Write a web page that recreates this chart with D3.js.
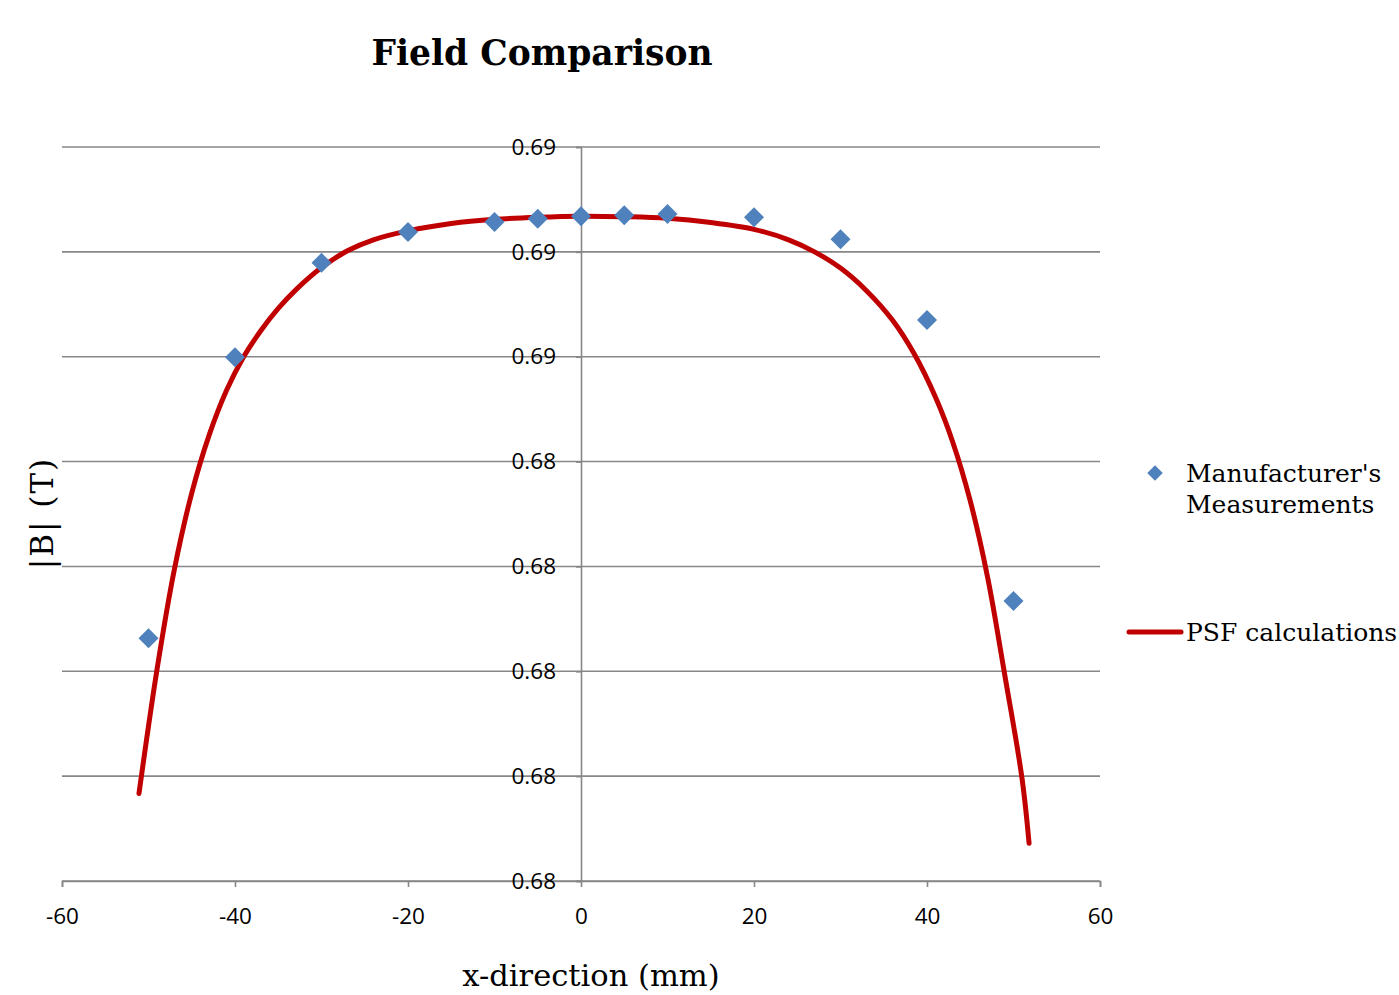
<!DOCTYPE html>
<html>
<head>
<meta charset="utf-8">
<script src="https://cdn.jsdelivr.net/npm/d3@7"></script>
<style>
  body { margin: 0; background: #fff; }
  svg { display: block; }
</style>
</head>
<body>
<svg id="chart" width="1399" height="995"></svg>
<script>
// measured points (Manufacturer's Measurements)
var measX = [-50, -40, -30, -20, -10, -5, 0, 5, 10, 20, 30, 40, 50];
var measB = [0.68063, 0.68599, 0.68779, 0.68838, 0.68857, 0.68863, 0.68868,
             0.68870, 0.68872, 0.68866, 0.68824, 0.68670, 0.68134];

// PSF calculation curve
var psfX = [-51.1, -49, -47, -45, -43, -41, -39, -37, -35, -33, -30, -27, -24,
            -20, -15, -10, -5, 0, 5, 10, 15, 20, 24, 27, 30, 33, 36, 38.5,
            41, 43, 45, 47, 49, 51, 51.8];
var psfB = [0.67767, 0.68005, 0.68195, 0.68340, 0.68450, 0.68535, 0.68600,
            0.68650, 0.68692, 0.68727, 0.68770, 0.68802, 0.68823, 0.68840,
            0.68854, 0.68862, 0.68866, 0.68868, 0.68867, 0.68864, 0.68856,
            0.68843, 0.68823, 0.68800, 0.68769, 0.68726, 0.68670, 0.68606,
            0.68522, 0.68436, 0.68325, 0.68180, 0.67992, 0.67794, 0.67672];

var xTicks = [-60, -40, -20, 0, 20, 40, 60];
var yTicks = [0.676, 0.678, 0.680, 0.682, 0.684, 0.686, 0.688, 0.690];

var svg = d3.select("#chart");
// plot area bounds (avoid "top", it's window.top)
var plotLeft = 62, plotRight = 1100, plotTop = 147, plotBottom = 881;

var x = d3.scaleLinear().domain([-60, 60]).range([plotLeft, plotRight]);
var y = d3.scaleLinear().domain([0.676, 0.690]).range([plotBottom, plotTop]);

var gridColor = "#878787";
var tickFont = "'Open Sans', 'Noto Sans', sans-serif";
var serif = "'DejaVu Serif', 'Liberation Serif', serif";

// horizontal gridlines
svg.append("g")
    .selectAll("line")
    .data(yTicks)
    .join("line")
    .attr("x1", plotLeft)
    .attr("x2", plotRight)
    .attr("y1", function(d) { return y(d); })
    .attr("y2", function(d) { return y(d); })
    .attr("stroke", gridColor)
    .attr("stroke-width", 1.6);

// x axis along the bottom, plain hyphen for negatives like the original
var xAxis = svg.append("g")
    .attr("transform", "translate(0," + plotBottom + ")")
    .call(d3.axisBottom(x).tickValues(xTicks).tickSize(6)
        .tickFormat(function(d) { return String(d); }));
xAxis.select(".domain").attr("stroke", gridColor).attr("stroke-width", 1.6);
xAxis.selectAll(".tick line").attr("stroke", gridColor).attr("stroke-width", 1.6);
xAxis.selectAll("text")
    .attr("y", 35)
    .attr("dy", "0.35em")
    .attr("fill", "#000")
    .style("font-family", tickFont)
    .style("font-size", "22.5px");

// y axis crosses at x = 0
var yAxis = svg.append("g")
    .attr("transform", "translate(" + x(0) + ",0)")
    .call(d3.axisLeft(y).tickValues(yTicks).tickSize(5).tickFormat(d3.format(".2f")));
yAxis.select(".domain").attr("stroke", gridColor).attr("stroke-width", 1.6);
yAxis.selectAll(".tick line").attr("stroke", gridColor).attr("stroke-width", 1.6);
yAxis.selectAll("text")
    .attr("x", -25)
    .attr("fill", "#000")
    .style("font-family", tickFont)
    .style("font-size", "22.5px");

// PSF curve
var line = d3.line()
    .x(function(d) { return x(d[0]); })
    .y(function(d) { return y(d[1]); })
    .curve(d3.curveCatmullRom.alpha(0.5));

svg.append("path")
    .datum(d3.zip(psfX, psfB))
    .attr("d", line)
    .attr("fill", "none")
    .attr("stroke", "#C00000")
    .attr("stroke-width", 5)
    .attr("stroke-linecap", "round");

// measurement diamonds
var diamond = d3.symbol().type(d3.symbolSquare).size(200);
svg.append("g")
    .selectAll("path")
    .data(d3.zip(measX, measB))
    .join("path")
    .attr("d", diamond)
    .attr("transform", function(d) {
        return "translate(" + x(d[0]) + "," + y(d[1]) + ") rotate(45)";
    })
    .attr("fill", "#4F81BD");

// title and axis titles
svg.append("text")
    .attr("x", 542)
    .attr("y", 65)
    .attr("text-anchor", "middle")
    .style("font-family", serif)
    .style("font-weight", "bold")
    .style("font-size", "34.5px")
    .text("Field Comparison");

svg.append("text")
    .attr("x", 591)
    .attr("y", 986)
    .attr("text-anchor", "middle")
    .style("font-family", serif)
    .style("font-size", "30.5px")
    .text("x-direction (mm)");

svg.append("text")
    .attr("transform", "translate(53,513) rotate(-90)")
    .attr("text-anchor", "middle")
    .style("font-family", serif)
    .style("font-size", "31px")
    .style("letter-spacing", "2px")
    .text("|B| (T)");

// legend
var legend = svg.append("g").style("font-family", serif).style("font-size", "25px");

legend.append("path")
    .attr("d", d3.symbol().type(d3.symbolSquare).size(120))
    .attr("transform", "translate(1155,473) rotate(45)")
    .attr("fill", "#4F81BD");
legend.append("text").attr("x", 1186).attr("y", 482).text("Manufacturer's");
legend.append("text").attr("x", 1186).attr("y", 513).text("Measurements");

legend.append("line")
    .attr("x1", 1129).attr("x2", 1181)
    .attr("y1", 632).attr("y2", 632)
    .attr("stroke", "#C00000")
    .attr("stroke-width", 5)
    .attr("stroke-linecap", "round");
legend.append("text").attr("x", 1186).attr("y", 641).text("PSF calculations");
</script>
</body>
</html>
